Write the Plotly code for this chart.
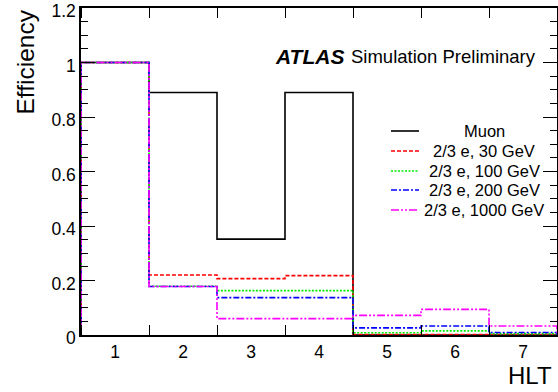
import numpy as np
import plotly.graph_objects as go

bins = [1, 2, 3, 4, 5, 6, 7]
tick_labels = ["1", "2", "3", "4", "5", "6", "7"]
series_names = ["Muon", "2/3 e, 30 GeV", "2/3 e, 100 GeV", "2/3 e, 200 GeV", "2/3 e, 1000 GeV"]
muon = [1.0, 0.89, 0.352, 0.89, 0.0, 0.0, 0.0]
e30 = [1.0, 0.22, 0.207, 0.218, 0.002, 0.002, 0.002]
e100 = [1.0, 0.179, 0.163, 0.163, 0.008, 0.015, 0.005]
e200 = [1.0, 0.178, 0.137, 0.137, 0.026, 0.033, 0.009]
e1000 = [1.0, 0.178, 0.06, 0.06, 0.072, 0.094, 0.033]
y_ticks = [0, 0.2, 0.4, 0.6, 0.8, 1.0, 1.2]
y_tick_labels = ["0", "0.2", "0.4", "0.6", "0.8", "1", "1.2"]

colors = ["#000000", "#ff0000", "#00ee00", "#0000ff", "#ff00ff"]
dashes = ["solid", "4px,2px", "2px,1.5px", "6px,2px,2px,2px", "8px,2px,2px,2px,2px,2px"]

fig = go.Figure()

def step_xy(vals):
    b = np.array(bins, dtype=float)
    lo = b - 0.5
    xs = [lo[0]] + list(lo) + [b[-1] + 0.5, b[-1] + 0.5]
    ys = [0.0] + list(vals) + [vals[-1], 0.0]
    return xs, ys

all_series = [muon, e30, e100, e200, e1000]
for name, vals, c, d in zip(series_names, all_series, colors, dashes):
    xs, ys = step_xy(vals)
    fig.add_trace(go.Scatter(x=xs, y=ys, mode="lines", line=dict(color=c, dash=d, width=1.6, shape="hv"),
                             name=name, showlegend=False, hoverinfo="skip"))

font = "Liberation Sans, Arial, sans-serif"

fig.update_layout(
    width=558, height=392,
    margin=dict(l=81, r=1, t=8, b=57),
    paper_bgcolor="white", plot_bgcolor="white",
    showlegend=False,
    font=dict(family=font, color="black"),
    xaxis=dict(range=[0.5, 7.5], tickvals=bins, ticktext=tick_labels, ticks="", showgrid=False, zeroline=False,
               showline=True, linecolor="black", linewidth=1.5, mirror="allticks", automargin=False,
               tickfont=dict(size=17.5, family=font),
               minor=dict(tick0=0.5, dtick=1, ticks="inside", ticklen=10, tickcolor="black", tickwidth=1)),
    yaxis=dict(range=[0, 1.2], tickvals=y_ticks, ticktext=y_tick_labels, ticklabeloverflow="allow",
               automargin=False, ticklabelshift=3,
               ticks="inside", ticklen=14, tickcolor="black", tickwidth=1, showgrid=False, zeroline=False,
               showline=True, linecolor="black", linewidth=1.5, mirror="allticks",
               tickfont=dict(size=17.5, family=font),
               minor=dict(dtick=0.05, ticks="inside", ticklen=7, tickcolor="black", tickwidth=1)),
)

pw, ph = 558 - 81 - 1, 392 - 8 - 57
def px(x):
    return (x - 81) / pw
def py(y):
    return (392 - 57 - y) / ph

annotations = [
    dict(text="Efficiency", x=px(25), y=1.0, xref="paper", yref="paper", showarrow=False, textangle=-90,
         xanchor="center", yanchor="top", font=dict(size=24.5, family=font)),
    dict(text="HLT", x=px(554), y=py(375), xref="paper", yref="paper", showarrow=False,
         xanchor="right", yanchor="middle", font=dict(size=24, family=font)),
    dict(text="<b><i>ATLAS</i></b>", x=px(346), y=py(56), xref="paper", yref="paper", showarrow=False,
         xanchor="right", yanchor="middle", font=dict(size=21, family=font)),
    dict(text="Simulation Preliminary", x=px(349), y=py(56), xref="paper", yref="paper", showarrow=False,
         xanchor="left", yanchor="middle", font=dict(size=18.5, family=font)),
]

leg_y = [131, 151, 171, 190, 210]
shapes = []
for name, c, d, yy in zip(series_names, colors, dashes, leg_y):
    shapes.append(dict(type="line", xref="paper", yref="paper", x0=px(391), x1=px(419), y0=py(yy), y1=py(yy),
                       line=dict(color=c, dash=d, width=1.6)))
    annotations.append(dict(text=name, x=px(484), y=py(yy), xref="paper", yref="paper", showarrow=False,
                            xanchor="center", yanchor="middle", font=dict(size=16.5, family=font)))

fig.update_layout(annotations=annotations, shapes=shapes)
fig.write_html("out.html")
